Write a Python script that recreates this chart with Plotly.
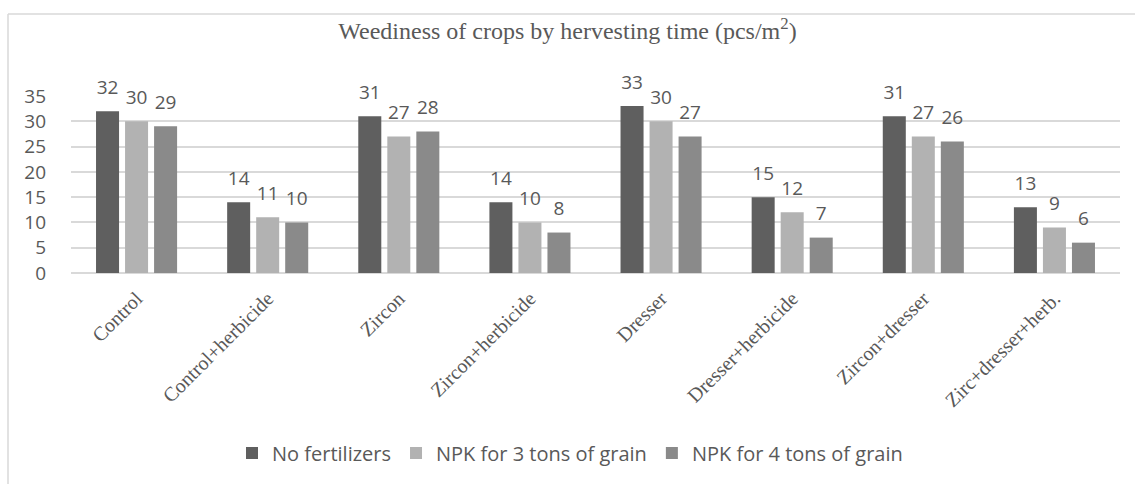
import plotly.graph_objects as go

categories = ["Control", "Control+herbicide", "Zircon", "Zircon+herbicide",
              "Dresser", "Dresser+herbicide", "Zircon+dresser", "Zirc+dresser+herb."]
series_names = ["No fertilizers", "NPK for 3 tons of grain", "NPK for 4 tons of grain"]
no_fert = [32, 14, 31, 14, 33, 15, 31, 13]
npk3 = [30, 11, 27, 10, 30, 12, 27, 9]
npk4 = [29, 10, 28, 8, 27, 7, 26, 6]
y_ticks = [0, 5, 10, 15, 20, 25, 30, 35]

colors = ["#5f5f5f", "#b2b2b2", "#8a8a8a"]
series = [no_fert, npk3, npk4]
TXT = "#595959"
SANS = "Open Sans"
SERIF = "Liberation Serif"

fig = go.Figure()
for name, vals, col in zip(series_names, series, colors):
    fig.add_trace(go.Bar(x=categories, y=vals, name=name, marker_color=col,
                         marker_line_width=0, hoverinfo="x+y"))
# data labels, grouped alongside bars
for name, vals in zip(series_names, series):
    fig.add_trace(go.Scatter(x=categories, y=vals, mode="markers+text",
                             text=[str(v) for v in vals], textposition="top center",
                             textfont=dict(family=SANS, size=19, color=TXT),
                             marker=dict(size=19, opacity=0),
                             showlegend=False, hoverinfo="skip", cliponaxis=False))

L, R, T, B = 71, 15, 96, 211
W, H = 1135, 484
pw, ph = W - L - R, H - T - B

def px(xp):
    return (xp - L) / pw

def py(yp):
    return (H - B - yp) / ph

fig.update_layout(
    width=W, height=H,
    margin=dict(l=L, r=R, t=T, b=B, autoexpand=False),
    paper_bgcolor="white", plot_bgcolor="white",
    barmode="group", bargap=0.336, bargroupgap=0.207,
    scattermode="group", scattergap=0.336,
    title=dict(text="Weediness of crops by hervesting time (pcs/m<sup>2</sup>)",
               font=dict(family=SERIF, size=24, color=TXT),
               x=0.5, xanchor="center", xref="container",
               y=1 - 31 / H, yanchor="middle", yref="container"),
    legend=dict(orientation="h", x=px(570), xanchor="center", y=py(453), yanchor="middle",
                font=dict(family=SANS, size=20, color=TXT), traceorder="normal"),
    xaxis=dict(tickangle=-45, tickfont=dict(family=SERIF, size=20, color=TXT),
               showgrid=False, showline=False, ticks="", ticklabelstandoff=9),
    yaxis=dict(range=[0, 35], tickvals=y_ticks, tickfont=dict(family=SANS, size=19, color=TXT),
               showgrid=True, gridcolor="#d9d9d9", gridwidth=1.5,
               zeroline=True, zerolinecolor="#d9d9d9", zerolinewidth=1.5,
               showline=False, ticks="", ticklabelstandoff=24),
    shapes=[
        dict(type="line", xref="paper", yref="paper", x0=px(8), x1=px(1140), y0=py(14), y1=py(14),
             line=dict(color="#d9d9d9", width=1.5)),
        dict(type="line", xref="paper", yref="paper", x0=px(8), x1=px(8), y0=py(14), y1=py(490),
             line=dict(color="#d9d9d9", width=1.5)),
    ],
)

fig.write_html("out.html", config={"displayModeBar": False},
               post_script="document.body.style.margin='0';document.body.style.overflow='hidden';")
